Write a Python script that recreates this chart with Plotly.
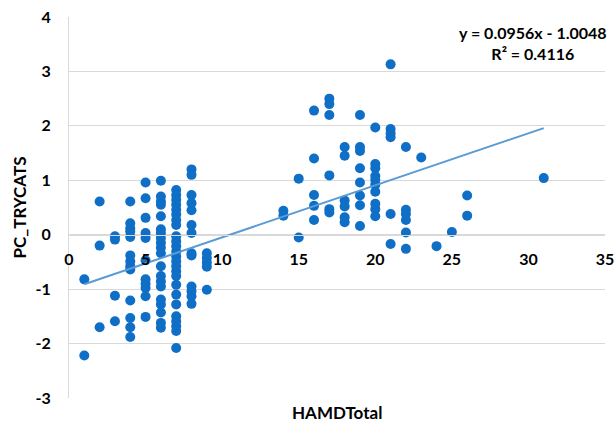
import plotly.graph_objects as go

# --- data ---
hamd = (
    [1] * 2 + [2] * 3 + [3] * 4 + [4] * 13 + [5] * 11 + [6] * 20 + [7] * 25 + [8] * 13 + [9] * 5
    + [14] * 2 + [15] * 2 + [16] * 5 + [17] * 6 + [18] * 6 + [19] * 8 + [20] * 10 + [21] * 6
    + [22] * 6 + [23] + [24] + [25] + [26] * 2 + [31]
)
pc_trycats = [
    -0.82, -2.22,
    0.61, -0.20, -1.70,
    -0.03, -0.09, -1.12, -1.59,
    0.61, 0.21, 0.12, 0.06, -0.04, -0.38, -0.49, -0.58, -0.64, -1.21, -1.53, -1.70, -1.88,
    0.96, 0.67, 0.31, 0.03, -0.06, -0.47, -0.82, -0.90, -0.98, -1.13, -1.51,
    0.99, 0.70, 0.61, 0.55, 0.34, 0.10, 0.03, -0.06, -0.15, -0.24, -0.34, -0.58, -0.76, -0.86,
    -0.95, -1.19, -1.28, -1.43, -1.62, -1.71,
    0.82, 0.73, 0.64, 0.55, 0.46, 0.37, 0.27, 0.18, -0.03, -0.12, -0.21, -0.31, -0.40, -0.49,
    -0.58, -0.67, -0.76, -0.92, -1.10, -1.28, -1.50, -1.59, -1.68, -1.77, -2.08,
    1.20, 1.10, 0.73, 0.58, 0.45, 0.18, 0.03, -0.34, -0.38, -0.95, -1.04, -1.13, -1.27,
    -0.34, -0.43, -0.51, -0.59, -1.01,
    0.44, 0.35,
    1.03, -0.05,
    2.28, 1.40, 0.73, 0.53, 0.27,
    2.50, 2.40, 2.20, 1.09, 0.47, 0.41,
    1.61, 1.45, 0.63, 0.52, 0.32, 0.23,
    2.20, 1.61, 1.54, 1.22, 0.96, 0.72, 0.54, 0.16,
    1.97, 1.30, 1.22, 1.08, 1.01, 0.92, 0.79, 0.57, 0.47, 0.34,
    3.13, 1.94, 1.86, 1.79, 0.38, -0.17,
    1.61, 0.46, 0.38, 0.27, 0.04, -0.26,
    1.42,
    -0.21,
    0.05,
    0.72, 0.35,
    1.04,
]
slope = 0.0956
intercept = -1.0048
r2 = 0.4116
x_ticks = [0, 5, 10, 15, 20, 25, 30, 35]
y_ticks = [-3, -2, -1, 0, 1, 2, 3, 4]

FONT = "Lato"
DOT = "#0F6FC6"
LINE = "#5B9BD5"
GRID = "#D9D9D9"

x_fit = [min(hamd), max(hamd)]
y_fit = [slope * v + intercept for v in x_fit]

fig = go.Figure()
fig.add_trace(go.Scatter(
    x=hamd, y=pc_trycats, mode="markers",
    marker=dict(size=10, color=DOT, line=dict(width=0)),
    showlegend=False, hoverinfo="x+y",
))
fig.add_trace(go.Scatter(
    x=x_fit, y=y_fit, mode="lines",
    line=dict(color=LINE, width=2),
    showlegend=False, hoverinfo="skip",
))

ymin, ymax = -3, 4
fig.update_layout(
    width=616, height=432,
    margin=dict(l=69, r=11, t=17, b=34, autoexpand=False),
    paper_bgcolor="white", plot_bgcolor="white",
    font=dict(family=FONT, color="#000000"),
    xaxis=dict(
        range=[0, 35], tickvals=x_ticks, ticktext=[str(v) for v in x_ticks],
        showgrid=False, zeroline=False, showline=True, linecolor=GRID, linewidth=1,
        anchor="free", position=(0 - ymin) / (ymax - ymin), automargin=False,
        ticks="", ticklabelstandoff=10, ticklabeloverflow="allow",
        tickfont=dict(family=FONT, size=16, color="#000000", weight="bold"),
    ),
    yaxis=dict(
        range=[ymin, ymax], tickvals=y_ticks, ticktext=[str(v) for v in y_ticks],
        showgrid=True, gridcolor=GRID, gridwidth=1, zeroline=False,
        showline=True, linecolor=GRID, linewidth=1, automargin=False,
        ticks="", ticklabelstandoff=14,
        tickfont=dict(family=FONT, size=16, color="#000000", weight="bold"),
        title=dict(text="PC_TRYCATS", standoff=4,
                   font=dict(family=FONT, size=17, color="#000000", weight="bold")),
    ),
    annotations=[
        dict(text="HAMDTotal", xref="paper", yref="paper", x=0.5, y=-0.005,
             xanchor="center", yanchor="top", showarrow=False,
             font=dict(family=FONT, size=17, color="#000000", weight="bold")),
        dict(text=f"y = {slope}x - {abs(intercept)}<br>R² = {r2}",
             xref="paper", yref="paper", x=0.865, y=0.99, xanchor="center", yanchor="top",
             align="center", showarrow=False,
             font=dict(family=FONT, size=16, color="#000000", weight="bold")),
    ],
)

fig.write_html("out.html")
